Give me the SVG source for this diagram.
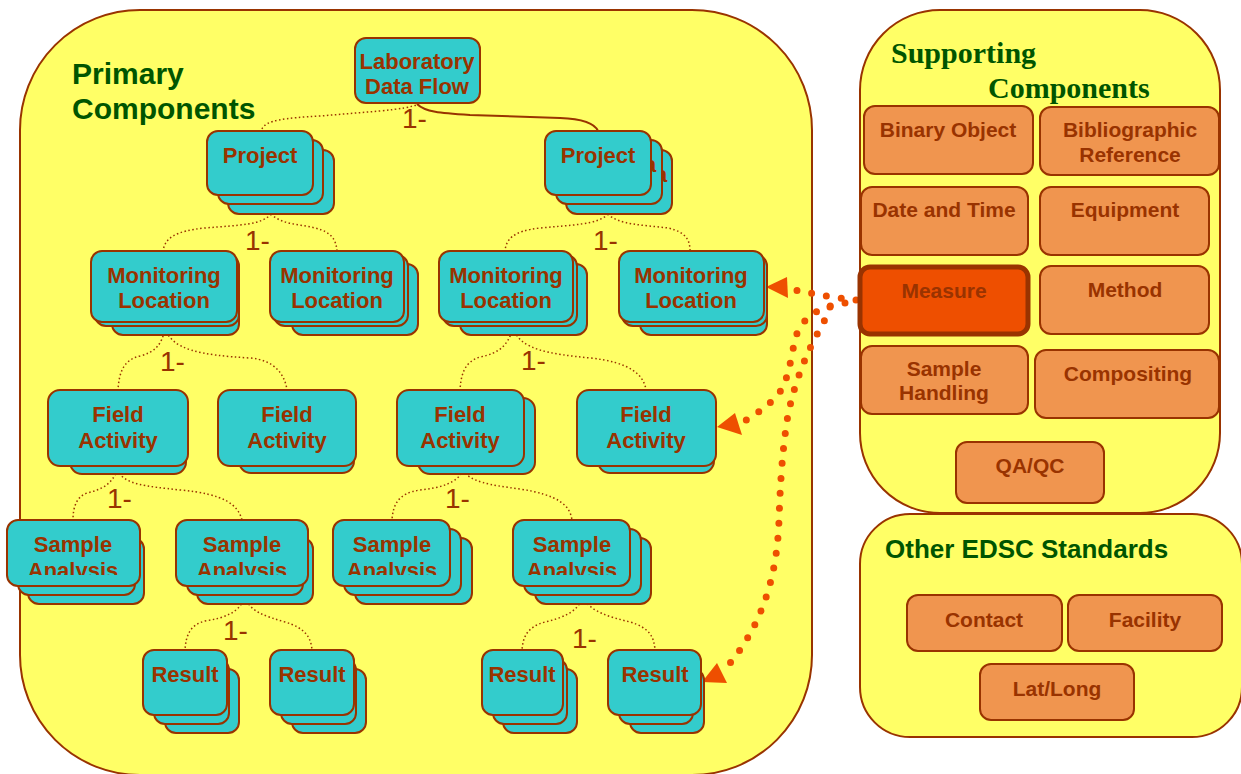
<svg xmlns="http://www.w3.org/2000/svg" width="1241" height="774" viewBox="0 0 1241 774">
<style>
.panel{fill:#FFFF66;stroke:#993300;stroke-width:2}
.card{fill:#33CCCC;stroke:#993300;stroke-width:2}
.ct{font-family:"Liberation Sans",Arial,sans-serif;font-weight:bold;font-size:22px;fill:#993300;text-anchor:middle}
.sup{fill:#F0954F;stroke:#993300;stroke-width:2}
.st{font-family:"Liberation Sans",Arial,sans-serif;font-weight:bold;font-size:21px;fill:#993300;text-anchor:middle}
.title{font-family:"Liberation Sans",Arial,sans-serif;font-weight:bold;fill:#005500}
.stitle{font-family:"Liberation Serif","Times New Roman",serif;font-weight:bold;font-size:30px;fill:#005500}
.dot{fill:none;stroke:#993300;stroke-width:1.5;stroke-dasharray:1.5 2.5}
.solid{fill:none;stroke:#993300;stroke-width:2}
.lbl{font-family:"Liberation Sans",Arial,sans-serif;font-size:28px;fill:#993300}
.or{fill:none;stroke:#EE4F00;stroke-width:7;stroke-linecap:round;stroke-dasharray:0 15}
.ah{fill:#EE4F00}
</style>
<defs>
<clipPath id="saclip"><rect x="0" y="500" width="800" height="75"/></clipPath>
</defs>
<rect width="1241" height="774" fill="#FFFFFF"/>

<g id="panel-primary">
<rect class="panel" x="20" y="10" width="792" height="765" rx="120"/>
<text class="title" font-size="30" x="72" y="84">Primary</text>
<text class="title" font-size="30" x="72" y="119">Components</text>
</g>
<g id="panel-supporting">
<rect class="panel" x="860" y="10" width="360" height="503" rx="80"/>
<text class="stitle" x="891" y="63">Supporting</text>
<text class="stitle" x="988" y="98">Components</text>
</g>
<g id="panel-other">
<rect class="panel" x="860" y="514" width="382" height="223" rx="50"/>
<text class="title" font-size="26" x="885" y="558">Other EDSC Standards</text>
</g>

<g id="connectors">
<path class="dot" d="M262,129 C266,120 285,118 320,116 L380,111 C400,109 412,107 419,104"/>
<path class="solid" d="M417,104 C425,112 440,113 470,115 L560,118 C585,119 595,124 598,131"/>
<path class="dot" d="M271,214 C262,225 240,225 205,228 C175,231 165,238 163,251"/>
<path class="dot" d="M271,214 C282,225 300,224 315,228 C332,232 336,240 337,251"/>
<path class="dot" d="M608,214 C598,225 570,225 540,228 C512,231 506,240 505,251"/>
<path class="dot" d="M608,214 C618,225 645,225 668,228 C686,232 690,240 690,251"/>
<path class="dot" d="M165,328 C162,345 155,352 140,356 C122,360 119,375 118,390"/>
<path class="dot" d="M165,328 C172,350 200,355 250,358 C275,360 285,375 287,390"/>
<path class="dot" d="M513,328 C508,345 500,353 480,357 C464,362 461,375 460,390"/>
<path class="dot" d="M513,328 C520,350 550,354 590,358 C630,362 644,375 646,390"/>
<path class="dot" d="M117,470 C112,485 100,490 87,493 C76,497 73,508 73,520"/>
<path class="dot" d="M117,470 C125,485 145,486 180,490 C225,494 238,505 242,520"/>
<path class="dot" d="M463,470 C458,483 440,488 420,490 C398,493 393,505 392,520"/>
<path class="dot" d="M463,470 C470,482 490,485 520,489 C558,495 570,505 572,520"/>
<path class="dot" d="M245,597 C240,612 225,618 205,621 C190,625 186,635 185,650"/>
<path class="dot" d="M245,597 C250,612 265,616 285,622 C305,628 311,637 312,650"/>
<path class="dot" d="M583,597 C578,612 562,618 545,622 C527,627 523,637 522,650"/>
<path class="dot" d="M583,597 C590,612 610,617 630,622 C650,628 654,637 655,650"/>
<text class="lbl" x="402" y="128">1-</text>
<text class="lbl" x="245" y="250">1-</text>
<text class="lbl" x="593" y="250">1-</text>
<text class="lbl" x="160" y="371">1-</text>
<text class="lbl" x="521" y="370">1-</text>
<text class="lbl" x="107" y="508">1-</text>
<text class="lbl" x="445" y="508">1-</text>
<text class="lbl" x="223" y="640">1-</text>
<text class="lbl" x="572" y="648">1-</text>
<path class="or" d="M856,300 C835,298 815,294 790,289"/>
<polygon class="ah" points="766,287 787,277 788,298"/>
<path class="or" d="M845,303 C820,306 800,318 795,340 C790,362 788,385 775,398 C765,408 755,415 743,422"/>
<polygon class="ah" points="717,427 735,413 742,435"/>
<path class="or" d="M830,307 C826,318 824,322 820,329 C808,350 795,380 788,415 C782,450 780,490 779,520 C777,580 760,630 724,670"/>
<polygon class="ah" points="702,682 717,663 727,683"/>
</g>

<g id="node-lab">
<rect class="card" x="355" y="38" width="125" height="65" rx="11"/>
<text class="ct" x="417" y="69">Laboratory</text>
<text class="ct" x="417" y="94">Data Flow</text>
</g>

<g id="node-project-1">
<rect class="card" x="228" y="150" width="106" height="64" rx="11"/>
<rect class="card" x="218" y="140" width="105" height="64" rx="11"/>
<rect class="card" x="207" y="131" width="106" height="64" rx="11"/>
<text class="ct" x="260" y="163">Project</text>
</g>
<g id="node-project-2">
<rect class="card" x="566" y="150" width="106" height="64" rx="11"/>
<text class="ct" x="661" y="182">a</text>
<rect class="card" x="556" y="140" width="106" height="64" rx="11"/>
<text class="ct" x="650" y="172">a</text>
<rect class="card" x="545" y="131" width="106" height="64" rx="11"/>
<text class="ct" x="598" y="163">Project</text>
</g>

<g id="node-ml-1">
<rect class="card" x="112" y="264" width="127" height="71" rx="11"/>
<rect class="card" x="95" y="255" width="144" height="71" rx="11"/>
<rect class="card" x="91" y="251" width="146" height="71" rx="11"/>
<text class="ct" x="164" y="283">Monitoring</text>
<text class="ct" x="164" y="308">Location</text>
</g>
<g id="node-ml-2">
<rect class="card" x="292" y="264" width="126" height="71" rx="11"/>
<rect class="card" x="274" y="255" width="134" height="71" rx="11"/>
<rect class="card" x="270" y="251" width="134" height="71" rx="11"/>
<text class="ct" x="337" y="283">Monitoring</text>
<text class="ct" x="337" y="308">Location</text>
</g>
<g id="node-ml-3">
<rect class="card" x="460" y="264" width="127" height="71" rx="11"/>
<rect class="card" x="443" y="255" width="134" height="71" rx="11"/>
<rect class="card" x="439" y="251" width="134" height="71" rx="11"/>
<text class="ct" x="506" y="283">Monitoring</text>
<text class="ct" x="506" y="308">Location</text>
</g>
<g id="node-ml-4">
<rect class="card" x="640" y="264" width="127" height="71" rx="11"/>
<rect class="card" x="622" y="255" width="145" height="71" rx="11"/>
<rect class="card" x="619" y="251" width="145" height="71" rx="11"/>
<text class="ct" x="691" y="283">Monitoring</text>
<text class="ct" x="691" y="308">Location</text>
</g>

<g id="node-fa-1">
<rect class="card" x="70" y="398" width="116" height="76" rx="12"/>
<rect class="card" x="48" y="390" width="140" height="76" rx="12"/>
<text class="ct" x="118" y="422">Field</text>
<text class="ct" x="118" y="448">Activity</text>
</g>
<g id="node-fa-2">
<rect class="card" x="239" y="397" width="115" height="76" rx="12"/>
<rect class="card" x="218" y="390" width="138" height="76" rx="12"/>
<text class="ct" x="287" y="422">Field</text>
<text class="ct" x="287" y="448">Activity</text>
</g>
<g id="node-fa-3">
<rect class="card" x="418" y="398" width="117" height="76" rx="12"/>
<rect class="card" x="397" y="390" width="127" height="76" rx="12"/>
<text class="ct" x="460" y="422">Field</text>
<text class="ct" x="460" y="448">Activity</text>
</g>
<g id="node-fa-4">
<rect class="card" x="598" y="397" width="116" height="76" rx="12"/>
<rect class="card" x="577" y="390" width="139" height="76" rx="12"/>
<text class="ct" x="646" y="422">Field</text>
<text class="ct" x="646" y="448">Activity</text>
</g>

<g id="node-sa-1">
<rect class="card" x="28" y="538" width="116" height="66" rx="11"/>
<rect class="card" x="18" y="529" width="117" height="66" rx="11"/>
<rect class="card" x="7" y="520" width="133" height="66" rx="11"/>
<g clip-path="url(#saclip)"><text class="ct" x="73" y="552">Sample</text><text class="ct" x="73" y="578">Analysis</text></g>
</g>
<g id="node-sa-2">
<rect class="card" x="197" y="538" width="116" height="66" rx="11"/>
<rect class="card" x="187" y="529" width="116" height="66" rx="11"/>
<rect class="card" x="176" y="520" width="132" height="66" rx="11"/>
<g clip-path="url(#saclip)"><text class="ct" x="242" y="552">Sample</text><text class="ct" x="242" y="578">Analysis</text></g>
</g>
<g id="node-sa-3">
<rect class="card" x="355" y="538" width="117" height="66" rx="11"/>
<rect class="card" x="344" y="529" width="117" height="66" rx="11"/>
<rect class="card" x="333" y="520" width="117" height="66" rx="11"/>
<g clip-path="url(#saclip)"><text class="ct" x="392" y="552">Sample</text><text class="ct" x="392" y="578">Analysis</text></g>
</g>
<g id="node-sa-4">
<rect class="card" x="535" y="538" width="116" height="66" rx="11"/>
<rect class="card" x="524" y="529" width="117" height="66" rx="11"/>
<rect class="card" x="513" y="520" width="117" height="66" rx="11"/>
<g clip-path="url(#saclip)"><text class="ct" x="572" y="552">Sample</text><text class="ct" x="572" y="578">Analysis</text></g>
</g>

<g id="node-result-1">
<rect class="card" x="165" y="669" width="74" height="64" rx="11"/>
<rect class="card" x="154" y="659" width="75" height="65" rx="11"/>
<rect class="card" x="143" y="650" width="84" height="65" rx="11"/>
<text class="ct" x="185" y="682">Result</text>
</g>
<g id="node-result-2">
<rect class="card" x="292" y="669" width="74" height="64" rx="11"/>
<rect class="card" x="281" y="659" width="75" height="65" rx="11"/>
<rect class="card" x="270" y="650" width="84" height="65" rx="11"/>
<text class="ct" x="312" y="682">Result</text>
</g>
<g id="node-result-3">
<rect class="card" x="503" y="669" width="74" height="64" rx="11"/>
<rect class="card" x="493" y="659" width="74" height="65" rx="11"/>
<rect class="card" x="482" y="650" width="81" height="65" rx="11"/>
<text class="ct" x="522" y="682">Result</text>
</g>
<g id="node-result-4">
<rect class="card" x="630" y="669" width="74" height="64" rx="11"/>
<rect class="card" x="619" y="659" width="74" height="65" rx="11"/>
<rect class="card" x="608" y="650" width="93" height="65" rx="11"/>
<text class="ct" x="655" y="682">Result</text>
</g>

<g id="node-binary-object"><rect class="sup" x="864" y="106" width="169" height="68" rx="11"/><text class="st" x="948" y="137">Binary Object</text></g>
<g id="node-bibliographic"><rect class="sup" x="1040" y="107" width="179" height="68" rx="11"/><text class="st" x="1130" y="137">Bibliographic</text><text class="st" x="1130" y="162">Reference</text></g>
<g id="node-date-time"><rect class="sup" x="861" y="187" width="167" height="68" rx="11"/><text class="st" x="944" y="217">Date and Time</text></g>
<g id="node-equipment"><rect class="sup" x="1040" y="187" width="169" height="68" rx="11"/><text class="st" x="1125" y="217">Equipment</text></g>
<g id="node-measure"><rect x="860" y="267" width="168" height="67" rx="10" fill="#EE4F00" stroke="#993300" stroke-width="5"/><text class="st" x="944" y="298">Measure</text></g>
<g id="node-method"><rect class="sup" x="1040" y="266" width="169" height="68" rx="11"/><text class="st" x="1125" y="297">Method</text></g>
<g id="node-sample-handling"><rect class="sup" x="861" y="346" width="167" height="68" rx="11"/><text class="st" x="944" y="376">Sample</text><text class="st" x="944" y="400">Handling</text></g>
<g id="node-compositing"><rect class="sup" x="1035" y="350" width="184" height="68" rx="11"/><text class="st" x="1128" y="381">Compositing</text></g>
<g id="node-qaqc"><rect class="sup" x="956" y="442" width="148" height="61" rx="11"/><text class="st" x="1030" y="473">QA/QC</text></g>
<g id="node-contact"><rect class="sup" x="907" y="595" width="155" height="56" rx="11"/><text class="st" x="984" y="627">Contact</text></g>
<g id="node-facility"><rect class="sup" x="1068" y="595" width="154" height="56" rx="11"/><text class="st" x="1145" y="627">Facility</text></g>
<g id="node-latlong"><rect class="sup" x="980" y="664" width="154" height="56" rx="11"/><text class="st" x="1057" y="696">Lat/Long</text></g>
</svg>
